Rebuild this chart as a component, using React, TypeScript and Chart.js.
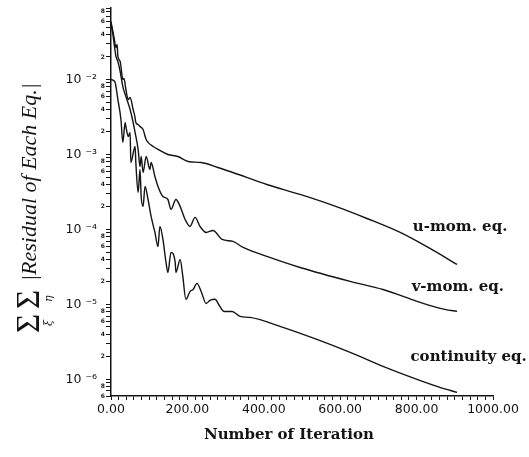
import React, { useEffect, useRef } from 'react';
import { Chart, registerables } from 'chart.js';

Chart.register(...registerables);

// ---- data (iteration number, residual) ----
const uIter = [0, 8, 13, 16, 18, 24, 26, 31, 34, 39, 45, 50, 58, 63, 65, 71, 76, 84, 92, 97, 110, 123, 149, 175, 202, 236, 280, 319, 408, 495, 581, 670, 757, 835, 906];
const uVal = [5.93e-2, 3.63e-2, 2.67e-2, 2.93e-2, 2.03e-2, 1.74e-2, 1.49e-2, 1.0e-2, 1.03e-2, 7.36e-3, 5.41e-3, 5.75e-3, 3.98e-3, 3.11e-3, 2.67e-3, 2.51e-3, 2.36e-3, 2.15e-3, 1.58e-3, 1.45e-3, 1.28e-3, 1.17e-3, 1.0e-3, 9.4e-4, 8.06e-4, 7.82e-4, 6.71e-4, 5.75e-4, 3.98e-4, 2.93e-4, 2.09e-4, 1.40e-4, 9.12e-5, 5.58e-5, 3.41e-5];

const vIter = [0, 5, 13, 18, 24, 31, 39, 50, 58, 63, 71, 76, 79, 84, 92, 102, 105, 115, 123, 136, 149, 157, 170, 181, 194, 207, 220, 233, 249, 267, 291, 319, 346, 408, 495, 626, 712, 801, 843, 874, 906];
const vVal = [5.58e-2, 3.98e-2, 2.03e-2, 1.74e-2, 1.28e-2, 8.06e-3, 5.93e-3, 3.98e-3, 2.67e-3, 1.97e-3, 1.17e-3, 6.92e-4, 9.4e-4, 5.75e-4, 9.4e-4, 6.31e-4, 7.82e-4, 5.09e-4, 3.75e-4, 2.75e-4, 2.51e-4, 1.85e-4, 2.51e-4, 2.03e-4, 1.36e-4, 1.10e-4, 1.45e-4, 1.10e-4, 9.12e-5, 9.7e-5, 7.36e-5, 6.92e-5, 5.75e-5, 4.37e-5, 3.11e-5, 2.03e-5, 1.58e-5, 1.10e-5, 9.4e-6, 8.58e-6, 8.06e-6];

const cIter = [0, 10, 18, 26, 31, 37, 39, 45, 50, 52, 63, 65, 71, 76, 79, 84, 89, 97, 105, 115, 123, 128, 136, 144, 149, 157, 168, 170, 181, 188, 196, 207, 215, 225, 236, 249, 259, 272, 285, 296, 317, 338, 364, 450, 539, 626, 712, 801, 861, 906];
const cVal = [1.0e-2, 9.4e-3, 5.41e-3, 2.93e-3, 1.45e-3, 2.67e-3, 2.36e-3, 1.74e-3, 1.97e-3, 7.82e-4, 1.28e-3, 7.82e-4, 3.11e-4, 6.31e-4, 2.75e-4, 2.03e-4, 3.75e-4, 2.51e-4, 1.49e-4, 9.12e-5, 5.93e-5, 1.10e-4, 7.36e-5, 3.63e-5, 2.67e-5, 4.94e-5, 3.63e-5, 2.67e-5, 3.98e-5, 2.36e-5, 1.17e-5, 1.49e-5, 1.58e-5, 1.91e-5, 1.49e-5, 1.03e-5, 1.13e-5, 1.17e-5, 9.4e-6, 8.06e-6, 8.06e-6, 6.92e-6, 6.71e-6, 4.94e-6, 3.41e-6, 2.29e-6, 1.49e-6, 1.0e-6, 7.82e-7, 6.71e-7];

// series annotation text (anchored in data coordinates)
const seriesNames = ['u-mom. eq.', 'v-mom. eq.', 'continuity eq.'];
const nameIter = [790, 787, 784];
const nameVal = [1.06e-4, 1.7e-5, 2.0e-6];

// ---- axes ----
const xMin = 0;
const xMax = 1000;
const xMinorStep = 20;
const xLabelStep = 200;
const xTitle = 'Number of Iteration';
const yMin = 6e-7;
const yMax = 0.09;
const yDecades = [-7, -6, -5, -4, -3, -2];
const yMantissas = [1, 2, 3, 4, 5, 6, 7, 8, 9];
const yMinorLabels = [2, 4, 6, 8];

const INK = '#141414';

const SUP: Record<string, string> = { '-': '⁻', '0': '⁰', '1': '¹', '2': '²', '3': '³', '4': '⁴', '5': '⁵', '6': '⁶', '7': '⁷', '8': '⁸', '9': '⁹' };
const toSup = (s: string) => s.split('').map((c) => SUP[c] ?? c).join('');

const mantissaOf = (v: number) => {
  const e = Math.floor(Math.log10(v) + 1e-9);
  return { m: Math.round(v / Math.pow(10, e)), e };
};

const pairs = (xs: number[], ys: number[]) => xs.map((x, i) => ({ x, y: ys[i] }));

const yTitlePlugin = {
  id: 'yTitleMath',
  afterDraw(chart: any) {
    const ctx = chart.ctx as CanvasRenderingContext2D;
    ctx.save();
    ctx.translate(38, 333);
    ctx.rotate(-Math.PI / 2);
    ctx.fillStyle = INK;
    ctx.textAlign = 'left';
    ctx.textBaseline = 'alphabetic';
    ctx.font = '33px "Liberation Serif"';
    ctx.fillText('Σ', 0, 1);
    ctx.fillText('Σ', 24, 1);
    ctx.font = 'italic 11px "DejaVu Serif"';
    ctx.fillText('ξ', 7, 14);
    ctx.fillText('η', 31, 14);
    ctx.font = 'italic 22px "Liberation Serif"';
    ctx.fillText('|Residual of Each Eq.|', 52, -2);
    ctx.restore();
  },
};

const seriesNamePlugin = {
  id: 'seriesNames',
  afterDatasetsDraw(chart: any) {
    const ctx = chart.ctx as CanvasRenderingContext2D;
    const xs = chart.scales.x;
    const ys = chart.scales.y;
    ctx.save();
    ctx.fillStyle = INK;
    ctx.textAlign = 'left';
    ctx.textBaseline = 'middle';
    ctx.font = 'bold 15px "DejaVu Serif"';
    seriesNames.forEach((t, i) => {
      ctx.fillText(t, xs.getPixelForValue(nameIter[i]), ys.getPixelForValue(nameVal[i]));
    });
    ctx.restore();
  },
};

export default function App() {
  const ref = useRef<HTMLCanvasElement>(null);

  useEffect(() => {
    if (!ref.current) return;
    const lineStyle = {
      borderColor: INK,
      borderWidth: 1.4,
      pointRadius: 0,
      fill: false,
      cubicInterpolationMode: 'monotone' as const,
    };
    const chart = new Chart(ref.current, {
      type: 'line',
      data: {
        datasets: [
          { label: seriesNames[0], data: pairs(uIter, uVal), ...lineStyle },
          { label: seriesNames[1], data: pairs(vIter, vVal), ...lineStyle },
          { label: seriesNames[2], data: pairs(cIter, cVal), ...lineStyle },
        ],
      },
      options: {
        animation: false,
        responsive: false,
        parsing: false as any,
        layout: { padding: { left: 0, right: 36, top: 8, bottom: 0 } },
        plugins: { legend: { display: false }, tooltip: { enabled: false }, title: { display: false } },
        scales: {
          x: {
            type: 'linear',
            min: xMin,
            max: xMax,
            afterBuildTicks: (s: any) => {
              const t = [];
              for (let v = xMin; v <= xMax; v += xMinorStep) t.push({ value: v });
              s.ticks = t;
            },
            afterFit: (s: any) => {
              s.height = 61;
            },
            ticks: {
              autoSkip: false,
              maxRotation: 0,
              padding: 2,
              color: INK,
              font: { family: 'DejaVu Sans', size: 12.5 },
              callback: (v: any) => (Number(v) % xLabelStep === 0 ? Number(v).toFixed(2) : ''),
            },
            grid: { display: true, drawOnChartArea: false, drawTicks: true, tickLength: 4, color: INK, lineWidth: 1 },
            border: { display: true, color: INK, width: 1.5 },
            title: {
              display: true,
              text: xTitle + '\u00a0\u00a0\u00a0\u00a0\u00a0',
              color: INK,
              font: { family: 'DejaVu Serif', weight: 'bold', size: 15 },
              padding: { top: 4, bottom: 13 },
            },
          },
          y: {
            type: 'logarithmic',
            min: yMin,
            max: yMax,
            bounds: 'data',
            afterBuildTicks: (s: any) => {
              const t: any[] = [];
              yDecades.forEach((e) =>
                yMantissas.forEach((m) => {
                  const v = m * Math.pow(10, e);
                  if (v >= yMin * 0.999 && v <= yMax * 1.001) t.push({ value: v });
                })
              );
              s.ticks = t;
            },
            afterFit: (s: any) => {
              s.width = 111;
            },
            ticks: {
              autoSkip: false,
              padding: 1,
              color: INK,
              font: (ctx: any) => {
                const v = ctx.tick ? ctx.tick.value : 1;
                const { m } = mantissaOf(v);
                return m === 1
                  ? { family: 'DejaVu Sans', size: 12.5 }
                  : { family: 'DejaVu Sans', size: 6, weight: 'bold' };
              },
              callback: (v: any) => {
                const { m, e } = mantissaOf(Number(v));
                if (m === 1) return '10 ' + toSup(String(e)) + '  ';
                return yMinorLabels.includes(m) ? String(m) : '';
              },
            },
            grid: { display: true, drawOnChartArea: false, drawTicks: true, tickLength: 5, color: INK, lineWidth: 1 },
            border: { display: true, color: INK, width: 1.5 },
            title: { display: false },
          },
        },
      },
      plugins: [yTitlePlugin, seriesNamePlugin],
    } as any);
    return () => chart.destroy();
  }, []);

  return (
    <div style={{ position: 'absolute', left: 0, top: 0, width: 529, height: 457, background: '#fff' }}>
      <canvas ref={ref} width={529} height={457} style={{ display: 'block' }} />
    </div>
  );
}
